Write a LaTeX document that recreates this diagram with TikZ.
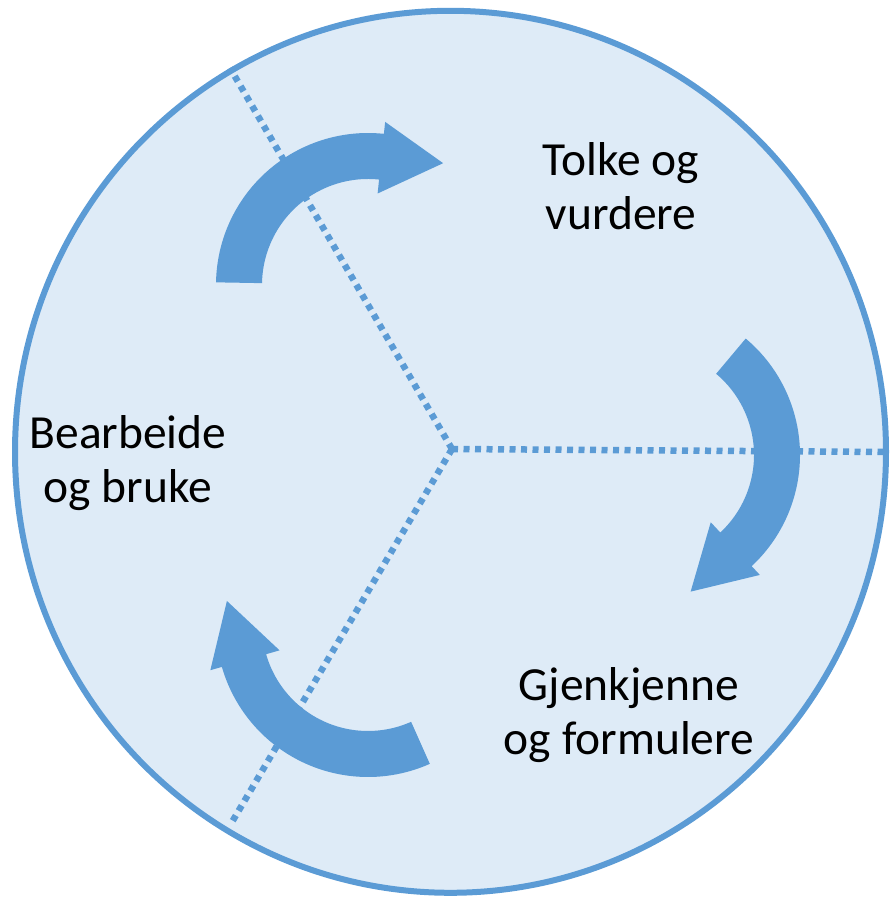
\documentclass[tikz,border=0pt]{standalone}
\usepackage{fontspec}
\setmainfont{Carlito}
\usetikzlibrary{calc}
\definecolor{ringblue}{HTML}{5B9BD5}
\definecolor{paleblue}{HTML}{DEEBF7}

\begin{document}
\begin{tikzpicture}[x=1pt,y=1pt,
		arrowbody/.style={fill=ringblue},
		sector/.style={ringblue,line width=6.5pt,dash pattern=on 6pt off 5.5pt},
		stagetext/.style={align=center,font=\fontsize{47.5}{54}\selectfont,inner sep=0pt}]
		\useasboundingbox (0,0) rectangle (889,897);
		\draw [ringblue,line width=6pt,fill=paleblue] (450.5,445.2) ellipse (435.5 and 441);
		\coordinate (hub) at (452,448);
		\coordinate (rimA) at (230,829);
		\coordinate (rimB) at (888,445);
		\coordinate (rimC) at (232,75);
		\draw [sector] (hub) -- (rimA);
		\draw [sector] (hub) -- (rimB);
		\draw [sector] (hub) -- (rimC);
		\coordinate (tl) at (368,612);
		\coordinate (rt) at (648,442);
		\coordinate (bl) at (368,272);
		\fill [arrowbody] ($(tl)+(179:152)$) arc (179:84:152) -- ($(tl)+(84:164)$) -- ($(tl)+(84:129)+(-6:62)$) -- ($(tl)+(84:92)$) -- ($(tl)+(84:106)$) arc (84:179:106) -- cycle;
		\fill [arrowbody] ($(rt)+(50:152)$) arc (50:-47:152) -- ($(rt)+(-47:164)$) -- ($(rt)+(-47:129)+(-137:62)$) -- ($(rt)+(-47:92)$) -- ($(rt)+(-47:106)$) arc (-47:50:106) -- cycle;
		\fill [arrowbody] ($(bl)+(-66:152)$) arc (-66:-164:152) -- ($(bl)+(-164:164)$) -- ($(bl)+(-164:129)+(-254:62)$) -- ($(bl)+(-164:92)$) -- ($(bl)+(-164:106)$) arc (-164:-66:106) -- cycle;
		\node [stagetext,anchor=base] (tolke) at (621,667) {Tolke og\\vurdere};
		\node [stagetext,anchor=base] (bearbeide) at (128,394) {Bearbeide\\og bruke};
		\node [stagetext,anchor=base] (gjenkjenne) at (629,142) {Gjenkjenne\\og formulere};
\end{tikzpicture}
\end{document}
